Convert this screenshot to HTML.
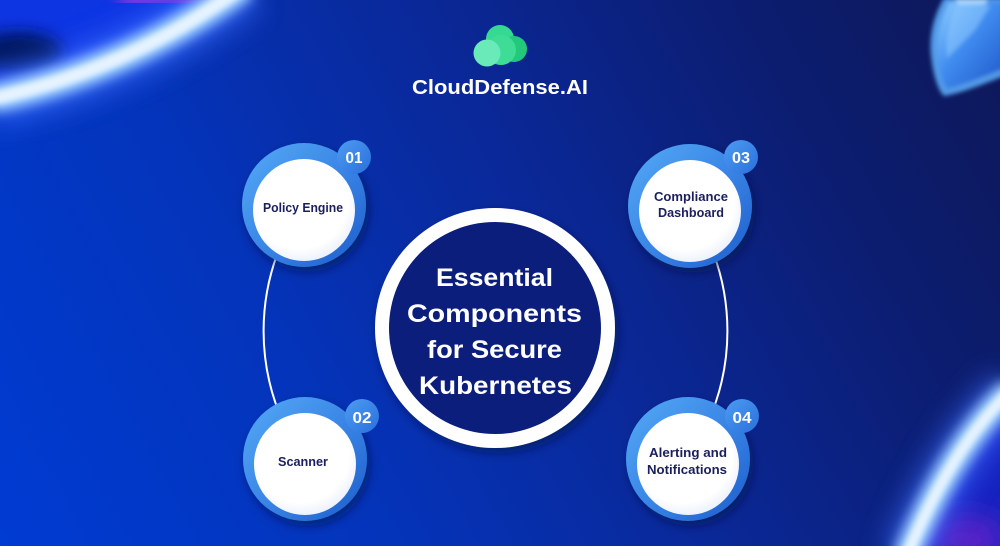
<!DOCTYPE html>
<html>
<head>
<meta charset="utf-8">
<style>
  html,body{margin:0;padding:0;background:#0a2690;}
  body{width:1000px;height:546px;overflow:hidden;}
  svg{display:block;}
  text{font-family:"Liberation Sans",sans-serif;font-weight:bold;}
</style>
</head>
<body>
<svg width="1000" height="546" viewBox="0 0 1000 546" xmlns="http://www.w3.org/2000/svg">
  <defs>
    <linearGradient id="bg" x1="0" y1="546" x2="1000" y2="0" gradientUnits="userSpaceOnUse">
      <stop offset="0" stop-color="#003bd2"/>
      <stop offset="0.3" stop-color="#0434ba"/>
      <stop offset="0.55" stop-color="#0a2898"/>
      <stop offset="0.8" stop-color="#0c1d70"/>
      <stop offset="1" stop-color="#0e1858"/>
    </linearGradient>
    <linearGradient id="ring" x1="0" y1="0" x2="1" y2="1">
      <stop offset="0" stop-color="#55aaf6"/>
      <stop offset="0.5" stop-color="#3a86e6"/>
      <stop offset="1" stop-color="#1d5ccc"/>
    </linearGradient>
    <linearGradient id="badge" x1="0" y1="0" x2="1" y2="1">
      <stop offset="0" stop-color="#4d9cf2"/>
      <stop offset="1" stop-color="#2a6fdc"/>
    </linearGradient>
    <linearGradient id="shield" x1="0" y1="0" x2="1" y2="1">
      <stop offset="0" stop-color="#8fd0ff"/>
      <stop offset="0.45" stop-color="#3f8cf0"/>
      <stop offset="1" stop-color="#1f55c8"/>
    </linearGradient>
    <radialGradient id="whiteFace" cx="0.45" cy="0.4" r="0.6">
      <stop offset="0.8" stop-color="#ffffff"/>
      <stop offset="1" stop-color="#eef2fb"/>
    </radialGradient>
    <filter id="b2" x="-50%" y="-50%" width="200%" height="200%"><feGaussianBlur stdDeviation="2"/></filter>
    <filter id="b3" x="-50%" y="-50%" width="200%" height="200%"><feGaussianBlur stdDeviation="3"/></filter>
    <filter id="b6" x="-50%" y="-50%" width="200%" height="200%"><feGaussianBlur stdDeviation="6"/></filter>
    <filter id="b8" x="-50%" y="-50%" width="200%" height="200%"><feGaussianBlur stdDeviation="8"/></filter>
    <filter id="b14" x="-50%" y="-50%" width="200%" height="200%"><feGaussianBlur stdDeviation="14"/></filter>
    <filter id="shadow" x="-30%" y="-30%" width="160%" height="160%">
      <feDropShadow dx="3" dy="5" stdDeviation="5" flood-color="#020c40" flood-opacity="0.55"/>
    </filter>
  </defs>

  <!-- background -->
  <rect width="1000" height="546" fill="url(#bg)"/>

  <!-- top-left glow -->
  <path d="M -20 -20 L 250 -20 L 240 -5 Q 130 70 -10 100 L -20 100 Z" fill="#0a36e2" filter="url(#b8)"/>
  <ellipse cx="18" cy="52" rx="45" ry="20" fill="#06135e" filter="url(#b8)"/>
  <path d="M -10 99 Q 130 70 245 -15" stroke="#3a6cff" stroke-width="50" fill="none" filter="url(#b14)" opacity="0.8"/>
  <path d="M 120 -2 Q 160 -6 200 -12" stroke="#9a3ae0" stroke-width="22" fill="none" filter="url(#b8)" opacity="0.9"/>
  <path d="M -10 99 Q 130 70 245 -15" stroke="#a6d6ff" stroke-width="28" fill="none" filter="url(#b6)"/>
  <path d="M -10 99 Q 130 70 245 -15" stroke="#e6f3ff" stroke-width="13" fill="none" filter="url(#b3)"/>

  <!-- bottom-right glow -->
  <path d="M 1010 392 Q 952 445 905 560 L 1020 560 Z" fill="#1420c0" filter="url(#b8)"/>
  <ellipse cx="965" cy="540" rx="40" ry="25" fill="#5a20c8" filter="url(#b14)"/>
  <path d="M 1012 390 Q 952 445 905 560" stroke="#3a6cff" stroke-width="46" fill="none" filter="url(#b14)" opacity="0.7"/>
  <path d="M 1012 390 Q 952 445 905 560" stroke="#a6d6ff" stroke-width="26" fill="none" filter="url(#b6)"/>
  <path d="M 1012 390 Q 952 445 905 560" stroke="#e6f3ff" stroke-width="11" fill="none" filter="url(#b3)"/>

  <!-- shield top right -->
  <g filter="url(#b2)">
    <path d="M 944 -2 C 934 15 929 35 931 55 C 933 75 938 90 944 96 C 962 93 986 83 1004 76 L 1004 -2 Z" fill="#5fb0ff" opacity="0.85"/>
    <path d="M 949 2 C 941 18 936 36 937 55 C 939 72 943 84 947 89 C 964 85 985 76 1004 69 L 1004 2 Z" fill="url(#shield)"/>
    <path d="M 955 6 C 949 22 945 40 947 58 L 975 30 L 990 6 Z" fill="#8fcaff" opacity="0.55"/>
    <path d="M 955 -2 L 988 -2 L 985 5 L 958 5 Z" fill="#b8e0ff" opacity="0.8"/>
  </g>

  <!-- logo -->
  <circle cx="500" cy="39" r="14" fill="#35d98f"/>
  <circle cx="514" cy="49" r="13" fill="#22c97a"/>
  <circle cx="501" cy="50" r="15" fill="#3fdc98"/>
  <circle cx="487" cy="53" r="13.5" fill="#6aeab9"/>
  <text x="412" y="94" font-size="20" fill="#ffffff" textLength="176" lengthAdjust="spacingAndGlyphs">CloudDefense.AI</text>

  <!-- connecting arcs -->
  <path d="M 283 240 A 223 223 0 0 0 283 422" stroke="#ffffff" stroke-width="2" fill="none"/>
  <path d="M 708 240 A 223 223 0 0 1 708 422" stroke="#ffffff" stroke-width="2" fill="none"/>

  <!-- center circle -->
  <circle cx="495" cy="328" r="120" fill="#ffffff" filter="url(#shadow)"/>
  <circle cx="495" cy="328" r="106" fill="#0b1e7c"/>
  <g fill="#ffffff" font-size="25" text-anchor="start">
    <text x="436" y="286" textLength="117" lengthAdjust="spacingAndGlyphs">Essential</text>
    <text x="407" y="322" textLength="175" lengthAdjust="spacingAndGlyphs">Components</text>
    <text x="427" y="358" textLength="135" lengthAdjust="spacingAndGlyphs">for Secure</text>
    <text x="419" y="394" textLength="153" lengthAdjust="spacingAndGlyphs">Kubernetes</text>
  </g>

  <!-- node 1 -->
  <g>
    <circle cx="304" cy="205" r="62" fill="url(#ring)" filter="url(#shadow)"/>
    <circle cx="304" cy="210" r="51" fill="url(#whiteFace)"/>
    <text x="263" y="212" font-size="12.5" fill="#1b1f5e" textLength="80" lengthAdjust="spacingAndGlyphs">Policy Engine</text>
    <circle cx="354" cy="157" r="17" fill="url(#badge)"/>
    <text x="354" y="163" font-size="16" fill="#ffffff" text-anchor="middle" textLength="17" lengthAdjust="spacingAndGlyphs">01</text>
  </g>

  <!-- node 3 -->
  <g>
    <circle cx="690" cy="206" r="62" fill="url(#ring)" filter="url(#shadow)"/>
    <circle cx="690" cy="211" r="51" fill="url(#whiteFace)"/>
    <text x="654" y="201" font-size="12.5" fill="#1b1f5e" textLength="74" lengthAdjust="spacingAndGlyphs">Compliance</text>
    <text x="658" y="217" font-size="12.5" fill="#1b1f5e" textLength="66" lengthAdjust="spacingAndGlyphs">Dashboard</text>
    <circle cx="741" cy="157" r="17" fill="url(#badge)"/>
    <text x="741" y="163" font-size="16" fill="#ffffff" text-anchor="middle" textLength="18" lengthAdjust="spacingAndGlyphs">03</text>
  </g>

  <!-- node 2 -->
  <g>
    <circle cx="305" cy="459" r="62" fill="url(#ring)" filter="url(#shadow)"/>
    <circle cx="305" cy="464" r="51" fill="url(#whiteFace)"/>
    <text x="278" y="466" font-size="12.5" fill="#1b1f5e" textLength="50" lengthAdjust="spacingAndGlyphs">Scanner</text>
    <circle cx="362" cy="416" r="17" fill="url(#badge)"/>
    <text x="362" y="423" font-size="16" fill="#ffffff" text-anchor="middle" textLength="19" lengthAdjust="spacingAndGlyphs">02</text>
  </g>

  <!-- node 4 -->
  <g>
    <circle cx="688" cy="459" r="62" fill="url(#ring)" filter="url(#shadow)"/>
    <circle cx="688" cy="464" r="51" fill="url(#whiteFace)"/>
    <text x="649" y="457" font-size="12.5" fill="#1b1f5e" textLength="78" lengthAdjust="spacingAndGlyphs">Alerting and</text>
    <text x="647" y="474" font-size="12.5" fill="#1b1f5e" textLength="80" lengthAdjust="spacingAndGlyphs">Notifications</text>
    <circle cx="742" cy="416" r="17" fill="url(#badge)"/>
    <text x="742" y="423" font-size="16" fill="#ffffff" text-anchor="middle" textLength="19" lengthAdjust="spacingAndGlyphs">04</text>
  </g>
</svg>
</body>
</html>
